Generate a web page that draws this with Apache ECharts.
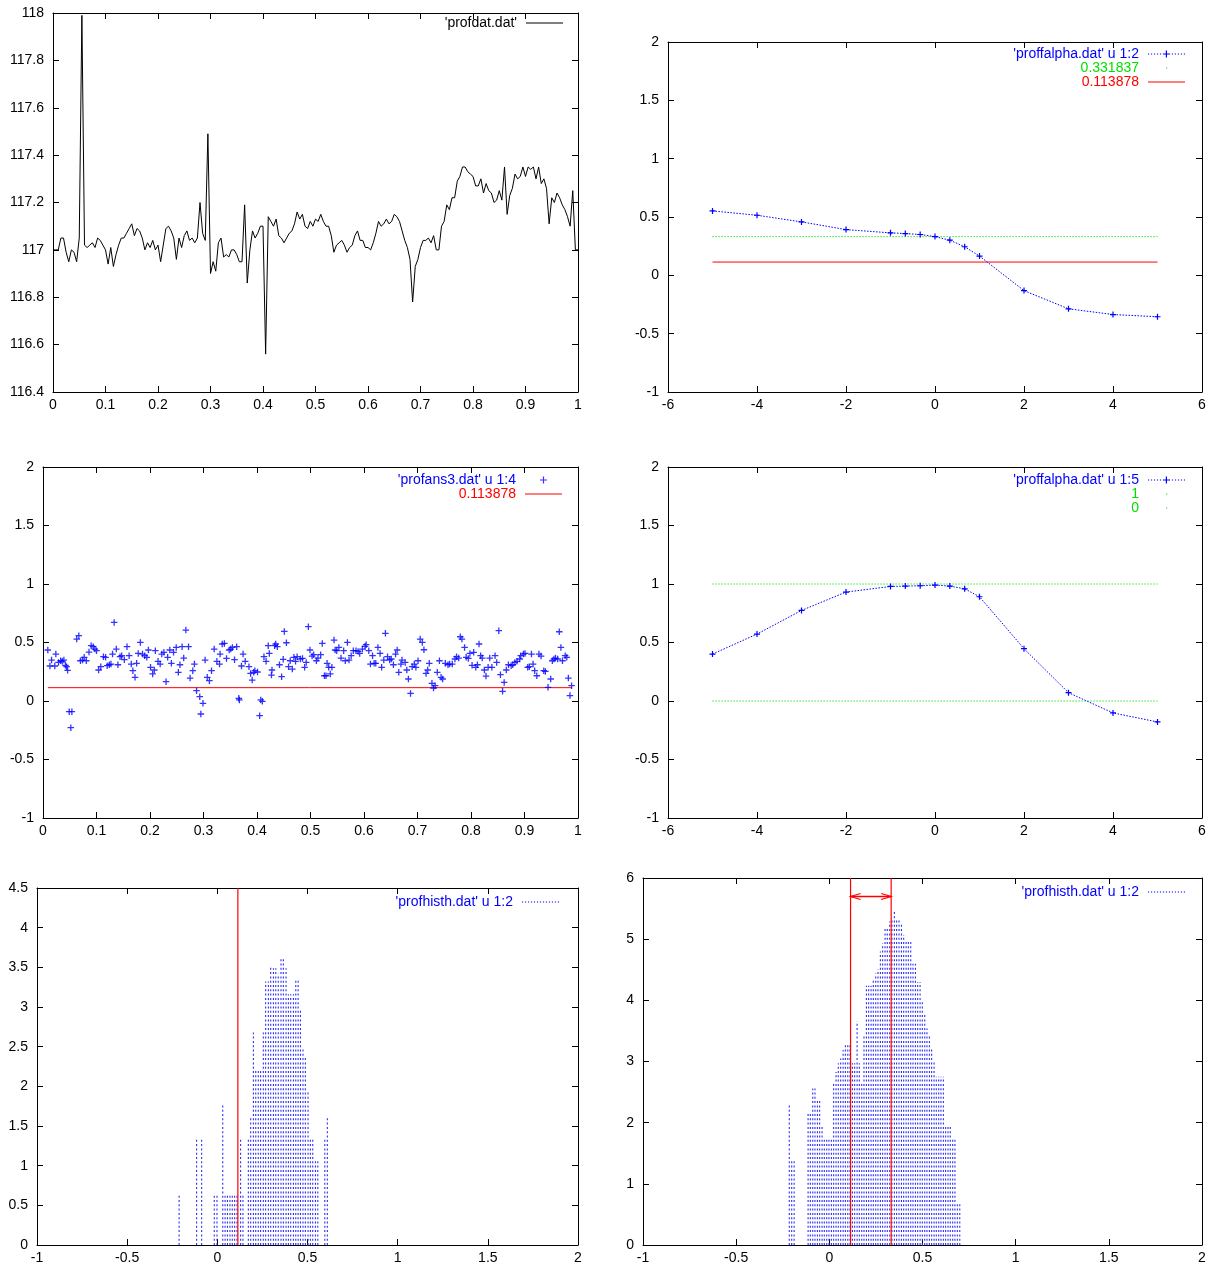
<!DOCTYPE html>
<html>
<head>
<meta charset="utf-8">
<script src="https://cdn.jsdelivr.net/npm/echarts@6/dist/echarts.min.js"></script>
<style>
html,body{margin:0;padding:0;background:#fff}
#c{width:1209px;height:1269px}
</style>
</head>
<body>
<div id="c"></div>
<script>
// ---------- data ----------
// profdat.dat : raw profile
const profdatX = [
0,0.005,0.01,0.015,0.02,0.025,0.03,0.035,0.04,0.045,
0.05,0.055,0.06,0.065,0.07,0.075,0.08,0.085,0.09,0.095,
0.1,0.105,0.11,0.115,0.12,0.125,0.13,0.135,0.14,0.145,
0.15,0.155,0.16,0.165,0.17,0.175,0.18,0.185,0.19,0.195,
0.2,0.205,0.21,0.215,0.22,0.225,0.23,0.235,0.24,0.245,
0.25,0.255,0.26,0.265,0.27,0.275,0.28,0.285,0.29,0.295,
0.3,0.305,0.31,0.315,0.32,0.325,0.33,0.335,0.34,0.345,
0.35,0.355,0.36,0.365,0.37,0.375,0.38,0.385,0.39,0.395,
0.4,0.405,0.41,0.415,0.42,0.425,0.43,0.435,0.44,0.445,
0.45,0.455,0.46,0.465,0.47,0.475,0.48,0.485,0.49,0.495,
0.5,0.505,0.51,0.515,0.52,0.525,0.53,0.535,0.54,0.545,
0.55,0.555,0.56,0.565,0.57,0.575,0.58,0.585,0.59,0.595,
0.6,0.605,0.61,0.615,0.62,0.625,0.63,0.635,0.64,0.645,
0.65,0.655,0.66,0.665,0.67,0.675,0.68,0.685,0.69,0.695,
0.7,0.705,0.71,0.715,0.72,0.725,0.73,0.735,0.74,0.745,
0.75,0.755,0.76,0.765,0.77,0.775,0.78,0.785,0.79,0.795,
0.8,0.805,0.81,0.815,0.82,0.825,0.83,0.835,0.84,0.845,
0.85,0.855,0.86,0.865,0.87,0.875,0.88,0.885,0.89,0.895,
0.9,0.905,0.91,0.915,0.92,0.925,0.93,0.935,0.94,0.945,
0.95,0.955,0.96,0.965,0.97,0.975,0.98,0.985,0.99,0.995,
1];
const profdatY = [
117.00,117.00,117.00,117.05,117.05,116.99,116.95,117.00,116.99,116.95,
117.05,117.99,117.02,117.01,117.02,117.03,117.01,117.05,117.04,117.02,
117.00,116.94,117.01,116.93,116.98,117.02,117.05,117.05,117.07,117.09,
117.11,117.06,117.09,117.08,117.05,117.00,117.03,117.01,117.04,117.00,
117.02,116.95,117.02,117.09,117.10,117.08,117.05,116.96,117.05,117.01,
117.06,117.08,117.04,117.05,117.03,117.05,117.20,117.07,117.04,117.49,
116.90,116.95,116.91,117.03,117.05,116.97,116.98,116.97,117.00,117.00,
116.98,116.95,116.95,117.19,116.86,117.00,117.08,117.05,117.07,117.10,
117.10,116.56,117.14,117.12,117.10,117.13,117.06,117.05,117.03,117.05,
117.07,117.08,117.11,117.16,117.13,117.15,117.10,117.09,117.12,117.10,
117.13,117.12,117.15,117.12,117.10,117.10,117.06,116.99,117.02,117.03,
117.04,117.02,116.99,117.01,117.02,117.06,117.08,117.04,117.04,117.01,
117.01,117.00,117.03,117.07,117.12,117.10,117.11,117.13,117.11,117.12,
117.15,117.14,117.12,117.08,117.04,117.01,116.96,116.78,116.93,116.96,
117.01,117.04,117.04,117.05,117.03,117.06,117.00,117.00,117.10,117.12,
117.19,117.17,117.22,117.22,117.29,117.31,117.35,117.35,117.33,117.32,
117.31,117.27,117.27,117.30,117.24,117.28,117.25,117.24,117.20,117.21,
117.25,117.21,117.35,117.15,117.23,117.26,117.32,117.30,117.31,117.35,
117.31,117.35,117.34,117.35,117.30,117.35,117.28,117.30,117.26,117.11,
117.22,117.20,117.24,117.22,117.19,117.17,117.14,117.10,117.25,117.00,
117.00];

// proffalpha.dat : columns 1, 2 and 5
const alphaX  = [-5, -4, -3, -2, -1, -0.667, -0.333, 0, 0.333, 0.667, 1, 2, 3, 4, 5];
const alphaC2 = [0.552, 0.515, 0.458, 0.392, 0.364, 0.358, 0.350, 0.332, 0.301, 0.245, 0.165, -0.131, -0.287, -0.336, -0.355];
const alphaC5 = [0.401, 0.572, 0.774, 0.931, 0.979, 0.982, 0.985, 0.991, 0.982, 0.959, 0.891, 0.447, 0.071, -0.102, -0.179];

// reference levels
const LEVEL_A = 0.331837;
const LEVEL_B = 0.113878;
const LEVELS_C5 = [1, 0];

// profans3.dat : columns 1 and 4
const ans3 = [
[0.009,0.436],[0.013,0.299],[0.016,0.350],[0.022,0.299],[0.024,0.401],[0.029,0.330],[0.033,0.344],[0.036,0.339],
[0.039,0.350],[0.042,0.305],[0.044,0.293],[0.046,0.262],[0.049,-0.091],[0.054,-0.091],[0.052,-0.228],[0.063,0.529],
[0.067,0.558],[0.070,0.344],[0.074,0.350],[0.077,0.373],[0.081,0.344],[0.086,0.418],[0.090,0.473],[0.094,0.464],
[0.097,0.444],[0.100,0.430],[0.104,0.265],[0.108,0.293],[0.113,0.379],[0.117,0.373],[0.120,0.302],[0.124,0.310],
[0.127,0.316],[0.130,0.401],[0.133,0.672],[0.137,0.444],[0.140,0.310],[0.144,0.379],[0.147,0.387],[0.152,0.353],
[0.157,0.464],[0.161,0.387],[0.165,0.316],[0.168,0.259],[0.172,0.202],[0.175,0.322],[0.178,0.407],[0.182,0.501],
[0.186,0.401],[0.190,0.387],[0.194,0.373],[0.197,0.436],[0.201,0.288],[0.205,0.231],[0.208,0.265],[0.210,0.430],
[0.215,0.339],[0.219,0.316],[0.222,0.401],[0.226,0.416],[0.230,0.165],[0.233,0.373],[0.237,0.436],[0.240,0.322],
[0.244,0.416],[0.249,0.458],[0.253,0.245],[0.256,0.310],[0.260,0.464],[0.263,0.367],[0.267,0.606],[0.272,0.464],
[0.275,0.196],[0.280,0.259],[0.283,0.316],[0.287,0.088],[0.293,0.037],[0.295,-0.111],[0.299,-0.020],[0.303,0.350],
[0.307,0.202],[0.311,0.174],[0.315,0.259],[0.320,0.444],[0.325,0.339],[0.330,0.316],[0.331,0.401],[0.335,0.487],
[0.339,0.492],[0.343,0.364],[0.348,0.436],[0.351,0.444],[0.354,0.458],[0.358,0.353],[0.362,0.464],[0.367,0.009],
[0.366,0.023],[0.371,0.299],[0.374,0.401],[0.378,0.339],[0.385,0.293],[0.388,0.236],[0.391,0.179],[0.394,0.245],
[0.396,0.259],[0.401,0.248],[0.405,-0.125],[0.407,0.009],[0.410,-0.003],[0.413,0.379],[0.417,0.339],[0.421,0.473],
[0.423,0.407],[0.427,0.222],[0.428,0.265],[0.433,0.473],[0.435,0.487],[0.438,0.464],[0.442,0.310],[0.446,0.208],
[0.449,0.356],[0.451,0.595],[0.455,0.498],[0.459,0.293],[0.462,0.344],[0.466,0.273],[0.469,0.373],[0.472,0.339],
[0.475,0.379],[0.481,0.359],[0.485,0.364],[0.489,0.288],[0.492,0.330],[0.496,0.635],[0.499,0.436],[0.503,0.384],
[0.506,0.396],[0.511,0.344],[0.514,0.367],[0.519,0.396],[0.522,0.492],[0.526,0.216],[0.529,0.216],[0.531,0.322],
[0.534,0.288],[0.537,0.231],[0.540,0.288],[0.544,0.521],[0.546,0.436],[0.549,0.430],[0.553,0.458],[0.557,0.367],
[0.562,0.430],[0.565,0.344],[0.569,0.501],[0.572,0.350],[0.576,0.387],[0.580,0.430],[0.585,0.430],[0.589,0.424],
[0.592,0.407],[0.597,0.444],[0.602,0.467],[0.604,0.481],[0.609,0.430],[0.612,0.316],[0.616,0.387],[0.619,0.322],
[0.622,0.322],[0.626,0.458],[0.630,0.407],[0.633,0.288],[0.637,0.350],[0.640,0.578],[0.644,0.379],[0.648,0.350],
[0.651,0.359],[0.655,0.310],[0.659,0.401],[0.662,0.436],[0.665,0.245],[0.669,0.316],[0.671,0.350],[0.677,0.330],
[0.680,0.265],[0.683,0.188],[0.687,0.065],[0.690,0.293],[0.694,0.316],[0.697,0.288],[0.701,0.344],[0.705,0.529],
[0.709,0.501],[0.712,0.438],[0.716,0.236],[0.719,0.265],[0.722,0.322],[0.727,0.151],[0.730,0.111],[0.733,0.131],
[0.737,0.245],[0.741,0.344],[0.744,0.202],[0.747,0.188],[0.752,0.322],[0.757,0.310],[0.760,0.316],[0.765,0.316],
[0.770,0.359],[0.773,0.379],[0.777,0.367],[0.780,0.549],[0.783,0.529],[0.788,0.458],[0.791,0.373],[0.795,0.364],
[0.798,0.407],[0.802,0.305],[0.805,0.416],[0.809,0.288],[0.812,0.310],[0.815,0.487],[0.818,0.387],[0.821,0.367],
[0.825,0.265],[0.828,0.213],[0.832,0.288],[0.835,0.367],[0.839,0.288],[0.845,0.387],[0.848,0.330],[0.852,0.601],
[0.855,0.225],[0.859,0.083],[0.862,0.159],[0.866,0.265],[0.870,0.310],[0.875,0.302],[0.878,0.310],[0.882,0.330],
[0.886,0.339],[0.891,0.359],[0.893,0.387],[0.898,0.401],[0.901,0.407],[0.906,0.288],[0.909,0.293],[0.913,0.401],
[0.916,0.316],[0.919,0.259],[0.923,0.216],[0.927,0.401],[0.931,0.384],[0.936,0.259],[0.939,0.253],[0.944,0.117],
[0.949,0.188],[0.952,0.344],[0.955,0.359],[0.958,0.367],[0.962,0.359],[0.965,0.592],[0.968,0.458],[0.971,0.344],
[0.976,0.387],[0.979,0.373],[0.982,0.196],[0.985,0.046],[0.988,0.131]];

// profhisth.dat (left histogram) : bin position, density
const hist5X = [-0.212,-0.115,-0.087,-0.017,-0.002,0.030,0.043,0.056,0.070,0.083,0.096,0.109,0.129,0.142,0.172,
  0.185,0.200,0.213,0.227,0.240,0.255,0.268,0.283,0.296,0.311,0.324,0.338,0.353,0.366,0.381,0.394,0.407,0.422,
  0.435,0.448,0.461,0.475,0.488,0.503,0.516,0.529,0.544,0.557,0.596,0.610];
const hist5Y = [0.65,1.35,1.35,0.65,0.65,1.78,0.65,0.65,0.65,0.65,0.65,0.65,1.35,0.65,1.35,
  1.60,2.68,2.20,2.20,2.20,2.68,3.32,3.32,3.51,3.49,3.49,3.42,3.63,3.63,3.49,3.16,3.16,3.16,
  3.36,3.36,2.98,2.48,2.37,1.93,1.35,1.35,1.08,1.08,1.35,1.60];

// profhisth.dat (right histogram)
const hist6X = [-0.215,-0.202,-0.189,
  -0.114,-0.102,-0.089,-0.077,-0.064,-0.052,-0.039,-0.027,-0.014,-0.002,
  0.011,0.023,0.036,0.048,0.061,0.074,0.086,0.099,0.111,0.124,
  0.136,0.149,0.161,0.174,0.186,0.199,0.211,0.224,0.236,0.249,
  0.261,0.274,0.286,0.299,0.311,0.324,0.336,0.349,0.361,0.374,
  0.387,0.399,0.412,0.424,0.437,0.449,0.462,0.474,0.487,0.499,
  0.512,0.524,0.537,0.549,0.562,0.574,0.587,0.599,0.612,0.624,
  0.637,0.649,0.662,0.674,0.687,0.700];
const hist6Y = [2.30,1.38,1.38,
  2.16,2.16,2.56,2.56,2.37,2.37,1.96,1.74,1.74,1.74,
  1.74,2.64,2.83,2.97,3.05,3.19,3.27,3.27,3.27,2.97,
  2.97,3.66,2.97,2.64,3.41,4.24,4.24,4.24,4.33,4.44,
  4.51,4.80,4.93,5.20,5.20,5.29,5.34,5.48,5.34,5.34,
  5.26,5.07,4.99,4.99,4.99,4.60,4.60,4.30,4.30,3.98,
  3.76,3.54,3.41,3.20,3.02,2.75,2.75,2.75,2.75,1.96,
  1.96,1.96,1.74,1.74,0.68,0.68];
const ARROW_Y = 5.7;

// ---------- styling ----------
const FONT = '"Liberation Sans", Arial, Helvetica, sans-serif';
const FS = 14;
const BLUE = '#0000ff', RED = '#ff0000', GREEN = '#00e000', BLACK = '#000000';
const IMPULSE_BLUE = '#2b2bff';
const PLUS = 'path://M0,3H6M3,0V6';

const zip = (xs, ys) => xs.map((x, i) => [x, ys[i]]);

// legend sample icons (41 x 10 box, sample drawn from x=4)
const BOX = 'path://M0,0 M41,10 ';
function dots(step) {
  let s = '';
  for (let x = 4; x < 41; x += step) s += 'M' + x + ',4.5h1.2v1h-1.2Z ';
  return s;
}
const plusPart = 'M19,4.4h7v1.2h-7Z M21.9,1.5h1.2v7h-1.2Z';
const ICON_SOLID = BOX + 'M4,4.5H41V5.5H4Z';
const ICON_DOTTED = BOX + dots(3);
const ICON_DOTTED_PLUS = BOX + dots(3) + plusPart;
const ICON_PLUS = BOX + plusPart;
const ICON_DOT = BOX + 'M22,4.6h1.2v1h-1.2Z';

const panels = [
  { grid: {left: 53, top: 13, width: 525, height: 379}, x: [0, 1, 0.1], y: [116.4, 118, 0.2] },
  { grid: {left: 668, top: 42, width: 534, height: 350}, x: [-6, 6, 2], y: [-1, 2, 0.5] },
  { grid: {left: 43, top: 467, width: 535, height: 351}, x: [0, 1, 0.1], y: [-1, 2, 0.5] },
  { grid: {left: 668, top: 467, width: 534, height: 351}, x: [-6, 6, 2], y: [-1, 2, 0.5] },
  { grid: {left: 37, top: 888, width: 541, height: 357}, x: [-1, 2, 0.5], y: [0, 4.5, 0.5] },
  { grid: {left: 643, top: 878, width: 559, height: 367}, x: [-1, 2, 0.5], y: [0, 6, 1] }
];

const grids = [], xAxes = [], yAxes = [];
function axis(kind, gi, pos, r) {
  const labelled = pos === 'bottom' || pos === 'left';
  return {
    type: 'value', gridIndex: gi, position: pos,
    min: r[0], max: r[1], interval: r[2],
    axisLine: {show: true, onZero: false, lineStyle: {color: BLACK, width: 1}},
    axisTick: {show: true, inside: true, length: 6, lineStyle: {color: BLACK, width: 1}},
    minorTick: {show: false},
    splitLine: {show: false},
    axisLabel: {show: labelled, color: BLACK, fontFamily: FONT, fontSize: FS,
                margin: kind === 'x' ? 6 : 9, showMinLabel: true, showMaxLabel: true},
    silent: true
  };
}
panels.forEach((p, i) => {
  grids.push(Object.assign({containLabel: false}, p.grid));
  xAxes.push(axis('x', i, 'bottom', p.x), axis('x', i, 'top', p.x));
  yAxes.push(axis('y', i, 'left', p.y), axis('y', i, 'right', p.y));
});
const ax = i => ({xAxisIndex: 2 * i, yAxisIndex: 2 * i});

function hline(i, name, color, dash, x0, x1, y) {
  return Object.assign({
    type: 'line', name, data: [[x0, y], [x1, y]], symbol: 'none',
    lineStyle: {color, width: 1, type: dash}, itemStyle: {color},
    silent: true, emphasis: {disabled: true}, z: 2
  }, ax(i));
}
function vline(i, name, color, x, y0, y1) {
  return Object.assign({
    type: 'line', name, data: [[x, y0], [x, y1]], symbol: 'none',
    lineStyle: {color, width: 1.2}, itemStyle: {color},
    silent: true, emphasis: {disabled: true}, z: 4
  }, ax(i));
}
function pointsLine(i, name, xs, ys) {
  return Object.assign({
    type: 'line', name, data: zip(xs, ys),
    symbol: PLUS, symbolSize: 6, showSymbol: true,
    lineStyle: {color: BLUE, width: 1, type: [1.5, 1.5]},
    itemStyle: {color: BLUE, borderColor: BLUE, borderWidth: 1.2},
    silent: true, emphasis: {disabled: true}, z: 3
  }, ax(i));
}

// impulses drawn as dotted vertical strokes from 0 up to the bin height
function impulseItem(params, api) {
  const x = api.value(0), h = api.value(1);
  const b = api.coord([x, 0]), t = api.coord([x, h]);
  return {
    type: 'line', silent: true,
    shape: {x1: b[0], y1: b[1], x2: b[0], y2: t[1]},
    style: {stroke: IMPULSE_BLUE, lineWidth: 1.1, lineDash: [2, 2.3], fill: null}
  };
}
function histSeries(i, xs, ys) {
  return Object.assign({
    type: 'custom', name: "'profhisth.dat' u 1:2", data: zip(xs, ys),
    renderItem: impulseItem, itemStyle: {color: BLUE}, clip: true, silent: true, z: 2
  }, ax(i));
}
// double-headed arrow between two x positions at height y
function arrowItem(params, api) {
  const a = api.coord([api.value(0), api.value(2)]);
  const b = api.coord([api.value(1), api.value(2)]);
  const y = Math.round(a[1]) + 0.5, L = 10, W = 3;
  return {
    type: 'group', silent: true, children: [
      {type: 'line', shape: {x1: a[0], y1: y, x2: b[0], y2: y}, style: {stroke: RED, lineWidth: 1.6}},
      {type: 'polyline', shape: {points: [[a[0] + L, y - W], [a[0], y], [a[0] + L, y + W]]}, style: {stroke: RED, lineWidth: 1.2, fill: null}},
      {type: 'polyline', shape: {points: [[b[0] - L, y - W], [b[0], y], [b[0] - L, y + W]]}, style: {stroke: RED, lineWidth: 1.2, fill: null}}
    ]
  };
}

const ans3Xs = ans3.map(d => d[0]);
const series = [
  // panel 1
  Object.assign({type: 'line', name: "'profdat.dat'", data: zip(profdatX, profdatY), symbol: 'none',
    lineStyle: {color: BLACK, width: 1}, itemStyle: {color: BLACK}, silent: true, emphasis: {disabled: true}}, ax(0)),
  // panel 2
  hline(1, '0.331837', GREEN, [1.2, 1.8], alphaX[0], alphaX[alphaX.length - 1], LEVEL_A),
  hline(1, '0.113878', RED, 'solid', alphaX[0], alphaX[alphaX.length - 1], LEVEL_B),
  pointsLine(1, "'proffalpha.dat' u 1:2", alphaX, alphaC2),
  // panel 3
  Object.assign({type: 'scatter', name: "'profans3.dat' u 1:4", data: ans3, symbol: PLUS, symbolSize: 6.5,
    itemStyle: {color: BLUE, borderColor: BLUE, borderWidth: 1.3}, silent: true, emphasis: {disabled: true}, z: 3}, ax(2)),
  hline(2, '0.113878', RED, 'solid', Math.min(...ans3Xs), Math.max(...ans3Xs), LEVEL_B),
  // panel 4
  hline(3, '1', GREEN, [1.2, 1.8], alphaX[0], alphaX[alphaX.length - 1], LEVELS_C5[0]),
  hline(3, '0', GREEN, [1.2, 1.8], alphaX[0], alphaX[alphaX.length - 1], LEVELS_C5[1]),
  pointsLine(3, "'proffalpha.dat' u 1:5", alphaX, alphaC5),
  // panel 5
  histSeries(4, hist5X, hist5Y),
  vline(4, 'b5', RED, LEVEL_B, panels[4].y[0], panels[4].y[1]),
  // panel 6
  histSeries(5, hist6X, hist6Y),
  vline(5, 'b6', RED, LEVEL_B, panels[5].y[0], panels[5].y[1]),
  vline(5, 'a6', RED, LEVEL_A, panels[5].y[0], panels[5].y[1]),
  Object.assign({type: 'custom', name: 'arrow', data: [[LEVEL_B, LEVEL_A, ARROW_Y]],
    renderItem: arrowItem, clip: true, silent: true, z: 5}, ax(5))
];

function legend(right, top, items) {
  return {
    orient: 'vertical', align: 'right', right, top, padding: 0, itemGap: 0,
    itemWidth: 41, itemHeight: 10, selectedMode: false,
    itemStyle: {borderWidth: 0},
    textStyle: {fontFamily: FONT, fontSize: FS, lineHeight: 14},
    data: items.map(it => ({
      name: it[0], icon: it[1],
      itemStyle: {color: it[2], borderWidth: 0},
      textStyle: {color: it[2], fontFamily: FONT, fontSize: FS, lineHeight: 14}
    }))
  };
}
const legends = [
  legend(646, 16, [["'profdat.dat'", ICON_SOLID, BLACK]]),
  legend(24, 47, [["'proffalpha.dat' u 1:2", ICON_DOTTED_PLUS, BLUE], ['0.331837', ICON_DOT, GREEN], ['0.113878', ICON_SOLID, RED]]),
  legend(647, 473, [["'profans3.dat' u 1:4", ICON_PLUS, BLUE], ['0.113878', ICON_SOLID, RED]]),
  legend(24, 473, [["'proffalpha.dat' u 1:5", ICON_DOTTED_PLUS, BLUE], ['1', ICON_DOT, GREEN], ['0', ICON_DOT, GREEN]]),
  legend(650, 895, [["'profhisth.dat' u 1:2", ICON_DOTTED, BLUE]]),
  legend(24, 885, [["'profhisth.dat' u 1:2", ICON_DOTTED, BLUE]])
];

const chart = echarts.init(document.getElementById('c'), null, {renderer: 'canvas', width: 1209, height: 1269});
chart.setOption({
  animation: false,
  backgroundColor: '#ffffff',
  textStyle: {fontFamily: FONT},
  grid: grids,
  xAxis: xAxes,
  yAxis: yAxes,
  legend: legends,
  series
});
</script>
</body>
</html>
